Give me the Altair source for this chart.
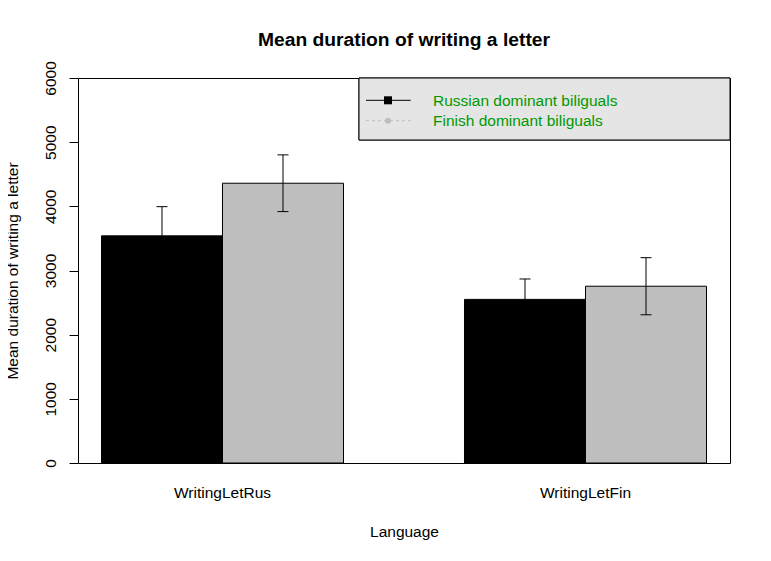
import altair as alt
import pandas as pd

groups = ["WritingLetRus", "WritingLetFin"]
series = ["Russian dominant biliguals", "Finish dominant biliguals"]
mean_rus_dom = [3540, 2550]
mean_fin_dom = [4360, 2755]
err_rus_dom = [455, 318]
err_fin_dom = [442, 445]

bar_colors = ["#000000", "#bebebe"]
legend_shapes = ["square", "circle"]
legend_sizes = [64, 36]
legend_dashes = [[1, 0], [3, 3]]

rows = []
for s, means, errs in [(series[0], mean_rus_dom, err_rus_dom), (series[1], mean_fin_dom, err_fin_dom)]:
    for g, m, e in zip(groups, means, errs):
        rows.append({"group": g, "series": s, "mean": m, "lo": m - e, "hi": m + e})
df = pd.DataFrame(rows)

FONT = "Liberation Sans"

x_enc = alt.X(
    "group:N",
    sort=groups,
    scale=alt.Scale(paddingInner=0.3333, paddingOuter=0.0647),
    axis=alt.Axis(
        title="Language",
        labelAngle=0,
        ticks=False,
        domain=False,
        labelPadding=22.5,
        labelFontSize=15.5,
        labelFont=FONT,
        labelColor="black",
        titleFont=FONT,
        titleFontSize=15.5,
        titleFontWeight="normal",
        titleColor="black",
        titleY=73.5,
        titleBaseline="alphabetic",
    ),
)
xoff = alt.XOffset("series:N", sort=series, scale=alt.Scale(paddingInner=0, paddingOuter=0))

y_scale = alt.Scale(domain=[0, 6000], nice=False, zero=True)

bars = alt.Chart(df).mark_bar(stroke="black", strokeWidth=1).encode(
    x=x_enc,
    xOffset=xoff,
    y=alt.Y(
        "mean:Q",
        scale=y_scale,
        axis=alt.Axis(
            title="Mean duration of writing a letter",
            values=[0, 1000, 2000, 3000, 4000, 5000, 6000],
            format="d",
            grid=False,
            domain=False,
            tickSize=9,
            tickColor="black",
            labelAngle=270,
            labelAlign="center",
            labelBaseline="bottom",
            labelPadding=10.5,
            labelFontSize=15.5,
            labelFont=FONT,
            labelColor="black",
            titleFont=FONT,
            titleFontSize=15.5,
            titleFontWeight="normal",
            titleColor="black",
            titleX=-60.5,
            titleY=192.5,
            titleBaseline="alphabetic",
            titleAngle=270,
        ),
    ),
    fill=alt.Fill("series:N", sort=series, scale=alt.Scale(domain=series, range=bar_colors), legend=None),
)

rules = alt.Chart(df).mark_rule(color="black", strokeWidth=1).encode(
    x=alt.X("group:N", sort=groups),
    xOffset=alt.XOffset("series:N", sort=series),
    y=alt.Y("lo:Q"),
    y2="hi:Q",
)

caps_hi = alt.Chart(df).mark_tick(color="black", opacity=1, thickness=1, size=11, orient="horizontal").encode(
    x=alt.X("group:N", sort=groups),
    xOffset=alt.XOffset("series:N", sort=series),
    y=alt.Y("hi:Q"),
)
caps_lo = alt.Chart(df).mark_tick(color="black", opacity=1, thickness=1, size=11, orient="horizontal").encode(
    x=alt.X("group:N", sort=groups),
    xOffset=alt.XOffset("series:N", sort=series),
    y=alt.Y("lo:Q"),
)

# legend (drawn as decoration inside the plot area, top-right)
leg_df = pd.DataFrame({"series": series})
legend_layers = [
    alt.Chart(leg_df).mark_rect(fill="#e5e5e5", stroke="black", strokeWidth=1).encode(
        x=alt.value(281), x2=alt.value(652), y=alt.value(0), y2=alt.value(62)
    )
]
for i, s in enumerate(series):
    yy = 22.3 + i * 20.4
    one = alt.Chart(leg_df).transform_filter(alt.datum.series == s)
    legend_layers.append(
        one.mark_rule(color=bar_colors[i], strokeWidth=1, strokeDash=legend_dashes[i]).encode(
            x=alt.value(288), x2=alt.value(332.7), y=alt.value(yy)
        )
    )
    legend_layers.append(
        one.mark_point(shape=legend_shapes[i], filled=True, color=bar_colors[i], opacity=1, size=legend_sizes[i]).encode(
            x=alt.value(310), y=alt.value(yy)
        )
    )
    legend_layers.append(
        one.mark_text(align="left", baseline="middle", font=FONT, fontSize=15.5, color="#009900").encode(
            x=alt.value(355), y=alt.value(yy + 0.5), text="series:N"
        )
    )

chart = alt.layer(bars, rules, caps_hi, caps_lo, *legend_layers).properties(
    width=652,
    height=385,
    autosize=alt.AutoSizeParams(type="none"),
    padding={"left": 70, "top": 70, "right": 33, "bottom": 90},
    title=alt.TitleParams(
        "Mean duration of writing a letter",
        font=FONT,
        fontSize=19.25,
        fontWeight="bold",
        color="black",
        anchor="middle",
        baseline="alphabetic",
        offset=14,
        dy=18.5,
    ),
).configure(
    background="white"
).configure_view(
    stroke="black", strokeWidth=1, fill="white"
)

chart.save("out.html", embed_options={"renderer": "svg", "actions": False})
